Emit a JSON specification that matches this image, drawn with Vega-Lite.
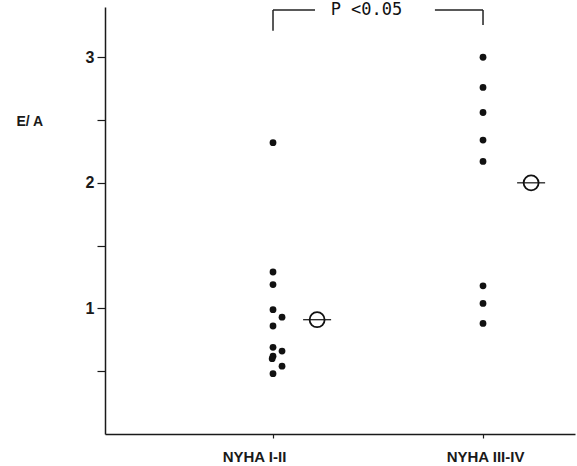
{
  "$schema": "https://vega.github.io/schema/vega-lite/v6.json",
  "width": 470,
  "height": 427,
  "autosize": {"type": "none"},
  "padding": {"left": 105, "top": 7, "right": 2, "bottom": 32},
  "background": "white",
  "config": {
    "view": {"stroke": null},
    "font": "Liberation Sans",
    "axis": {"grid": false, "domainColor": "#1a1a1a", "domainWidth": 1.5, "tickColor": "#1a1a1a", "tickWidth": 1.2, "labelColor": "#1a1a1a", "titleColor": "#1a1a1a", "labelFont": "Liberation Sans", "titleFont": "Liberation Sans"}
  },
  "datasets": {
    "points": [
      {"group": "NYHA I-II", "x": 0, "y": 2.32},
      {"group": "NYHA I-II", "x": 0, "y": 1.29},
      {"group": "NYHA I-II", "x": 0, "y": 1.19},
      {"group": "NYHA I-II", "x": 0, "y": 0.99},
      {"group": "NYHA I-II", "x": 0.043, "y": 0.93},
      {"group": "NYHA I-II", "x": 0, "y": 0.86},
      {"group": "NYHA I-II", "x": 0, "y": 0.69},
      {"group": "NYHA I-II", "x": 0.043, "y": 0.66},
      {"group": "NYHA I-II", "x": 0, "y": 0.62},
      {"group": "NYHA I-II", "x": -0.004, "y": 0.6},
      {"group": "NYHA I-II", "x": 0.043, "y": 0.54},
      {"group": "NYHA I-II", "x": 0, "y": 0.48},
      {"group": "NYHA III-IV", "x": 1, "y": 3.0},
      {"group": "NYHA III-IV", "x": 1, "y": 2.76},
      {"group": "NYHA III-IV", "x": 1, "y": 2.56},
      {"group": "NYHA III-IV", "x": 1, "y": 2.34},
      {"group": "NYHA III-IV", "x": 1, "y": 2.17},
      {"group": "NYHA III-IV", "x": 1, "y": 1.18},
      {"group": "NYHA III-IV", "x": 1, "y": 1.04},
      {"group": "NYHA III-IV", "x": 1, "y": 0.88}
    ],
    "means": [
      {"group": "NYHA I-II", "x": 0.21, "y": 0.91},
      {"group": "NYHA III-IV", "x": 1.229, "y": 2.0}
    ],
    "bracket": [
      {"x": 0, "x2": 0, "y": 3.21, "y2": 3.376},
      {"x": 0, "x2": 0.2, "y": 3.376, "y2": 3.376},
      {"x": 0.771, "x2": 1, "y": 3.376, "y2": 3.376},
      {"x": 1, "x2": 1, "y": 3.256, "y2": 3.376}
    ],
    "ptext": [
      {"x": 0.445, "y": 3.376, "label": "P <0.05"}
    ]
  },
  "layer": [
    {
      "data": {"name": "points"},
      "mark": {"type": "point", "shape": "circle", "filled": true, "color": "#111", "size": 46, "opacity": 1},
      "encoding": {
        "x": {
          "field": "x", "type": "quantitative", "title": null,
          "scale": {"domain": [-0.8, 1.438], "nice": false, "zero": false},
          "axis": {
            "values": [0, 1],
            "labelExpr": "datum.value == 0 ? 'NYHA I-II' : 'NYHA III-IV'",
            "tickSize": 4,
            "labelPadding": 11,
            "labelFontSize": 15,
            "labelFontWeight": "bold",
            "labelFlush": false,
            "labelOverlap": false,
            "labelOffset": {"condition": {"test": "datum.value == 0", "value": -19}, "value": 2}
          }
        },
        "y": {
          "field": "y", "type": "quantitative", "title": "E/ A",
          "scale": {"domain": [0, 3.4], "nice": false, "zero": false},
          "axis": {
            "values": [0.5, 1, 1.5, 2, 2.5, 3],
            "labelExpr": "datum.value % 1 === 0 ? format(datum.value, 'd') : ''",
            "tickSize": 8,
            "labelPadding": 3,
            "labelFontSize": 16,
            "labelFontWeight": "bold",
            "titleAngle": 0,
            "titleX": -89,
            "titleY": 114,
            "titleAlign": "left",
            "titleBaseline": "middle",
            "titleFontSize": 14,
            "titleFontWeight": "bold"
          }
        }
      }
    },
    {
      "data": {"name": "means"},
      "mark": {"type": "point", "shape": "stroke", "filled": false, "color": "#111", "size": 784, "strokeWidth": 1.2, "opacity": 1},
      "encoding": {
        "x": {"field": "x", "type": "quantitative", "title": null},
        "y": {"field": "y", "type": "quantitative", "title": "E/ A"}
      }
    },
    {
      "data": {"name": "means"},
      "mark": {"type": "point", "shape": "circle", "filled": false, "color": "#111", "size": 225, "strokeWidth": 1.8, "opacity": 1},
      "encoding": {
        "x": {"field": "x", "type": "quantitative", "title": null},
        "y": {"field": "y", "type": "quantitative", "title": "E/ A"}
      }
    },
    {
      "data": {"name": "bracket"},
      "mark": {"type": "rule", "color": "#222", "strokeWidth": 1.5},
      "encoding": {
        "x": {"field": "x", "type": "quantitative", "title": null},
        "x2": {"field": "x2"},
        "y": {"field": "y", "type": "quantitative", "title": "E/ A"},
        "y2": {"field": "y2"}
      }
    },
    {
      "data": {"name": "ptext"},
      "mark": {"type": "text", "fontSize": 17, "font": "DejaVu Sans Mono", "color": "#111", "baseline": "middle", "align": "center"},
      "encoding": {
        "x": {"field": "x", "type": "quantitative", "title": null},
        "y": {"field": "y", "type": "quantitative", "title": "E/ A"},
        "text": {"field": "label"}
      }
    }
  ]
}
